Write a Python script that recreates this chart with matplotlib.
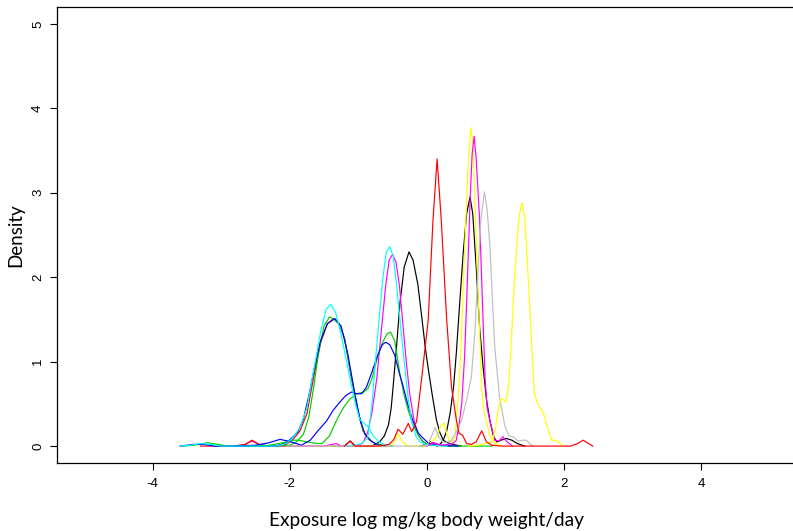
import matplotlib
matplotlib.use("Agg")
import matplotlib.pyplot as plt

# Density curves of exposure (log mg/kg body weight/day), one list pair per series
black_a_x = [-1.4, -1.2, -1.12, -1.04, -0.95, -0.8, -0.69, -0.62, -0.56, -0.52, -0.49, -0.44, -0.39,
             -0.33, -0.26, -0.2, -0.13, -0.07, -0.02, 0.02, 0.08, 0.14, 0.19, 0.24, 0.3, 0.38, 0.5]
black_a_y = [0, 0.0, 0.06, 0.0, 0.0, 0.0, 0.05, 0.12, 0.25, 0.45, 0.72, 1.2, 1.71,
             2.12, 2.30, 2.2, 1.91, 1.5, 1.15, 0.92, 0.6, 0.31, 0.16, 0.07, 0.04, 0.02, 0]

red_a_x = [-3.3, -2.8, -2.65, -2.55, -2.45, -2.3, -2.05, -1.95, -1.85, -1.75, -1.65, -1.55, -1.45,
           -1.36, -1.28, -1.2, -1.1, -1.0, -0.93, -0.85, -0.75, -0.65, -0.5]
red_a_y = [0, 0, 0.02, 0.07, 0.02, 0, 0.02, 0.08, 0.18, 0.38, 0.82, 1.22, 1.45,
           1.51, 1.45, 1.28, 0.8, 0.4, 0.18, 0.08, 0.03, 0.01, 0]

green_a_x = [-3.55, -3.4, -3.2, -3.05, -2.9, -2.2, -2.0, -1.9, -1.8, -1.72, -1.65, -1.58, -1.5,
             -1.42, -1.35, -1.27, -1.2, -1.1, -1.0, -0.93, -0.85, -0.75, -0.6]
green_a_y = [0, 0.01, 0.04, 0.02, 0, 0, 0.01, 0.05, 0.14, 0.35, 0.7, 1.1, 1.42,
             1.53, 1.5, 1.43, 1.27, 0.82, 0.4, 0.18, 0.08, 0.03, 0]

blue_a_x = [-3.6, -3.4, -3.25, -3.1, -2.2, -2.05, -1.95, -1.88, -1.8, -1.72, -1.65, -1.55, -1.45,
            -1.34, -1.25, -1.15, -1.05, -0.97, -0.9, -0.8, -0.7, -0.6]
blue_a_y = [0, 0.02, 0.02, 0, 0, 0.04, 0.11, 0.17, 0.32, 0.6, 0.88, 1.25, 1.45,
            1.51, 1.42, 1.08, 0.62, 0.3, 0.14, 0.05, 0.01, 0]

cyan_a_x = [-3.6, -3.45, -3.3, -3.15, -3.0, -2.2, -2.05, -1.95, -1.85, -1.75, -1.65, -1.55, -1.47,
            -1.40, -1.33, -1.25, -1.15, -1.05, -0.98, -0.92, -0.85, -0.78, -0.7, -0.6, -0.5]
cyan_a_y = [0, 0.01, 0.03, 0.02, 0.0, 0.0, 0.03, 0.1, 0.22, 0.45, 0.9, 1.35, 1.62,
            1.68, 1.58, 1.32, 0.92, 0.52, 0.32, 0.27, 0.22, 0.12, 0.05, 0.01, 0]

magenta_b_x = [-2.8, -2.65, -2.55, -2.45, -2.3, -1.5, -1.38, -1.32, -1.25, -1.1, -1.0, -0.93, -0.86,
               -0.8, -0.73, -0.66, -0.6, -0.55, -0.5, -0.45, -0.4, -0.35, -0.3, -0.25, -0.19,
               -0.13, -0.07, 0.0, 0.1, 0.2, 0.35]
magenta_b_y = [0, 0.02, 0.06, 0.02, 0, 0, 0.02, 0.03, 0.0, 0.0, 0.01, 0.04, 0.17,
               0.4, 0.8, 1.4, 1.9, 2.2, 2.27, 2.18, 1.9, 1.45, 1.0, 0.62, 0.32,
               0.14, 0.06, 0.02, 0.04, 0.01, 0]

yellow_a_x = [-2.8, -2.65, -2.55, -2.45, -2.3, -0.55, -0.47, -0.42, -0.36, -0.28, 0.0, 0.08, 0.15,
              0.21, 0.25, 0.29, 0.33, 0.37, 0.41, 0.44, 0.47, 0.5, 0.53, 0.57, 0.6, 0.64, 0.67,
              0.70, 0.73, 0.77, 0.80, 0.83, 0.86, 0.92, 1.0, 1.1]
yellow_a_y = [0, 0.02, 0.06, 0.02, 0, 0, 0.05, 0.15, 0.05, 0.0, 0.0, 0.06, 0.12,
              0.25, 0.27, 0.15, 0.06, 0.05, 0.11, 0.4, 0.7, 1.2, 1.89, 2.7, 3.3, 3.77, 3.6,
              2.95, 2.2, 1.34, 0.7, 0.42, 0.32, 0.12, 0.03, 0]

green_b_x = [-2.6, -2.3, -2.1, -1.95, -1.87, -1.75, -1.6, -1.53, -1.42, -1.32, -1.22, -1.12, -1.02,
             -0.92, -0.86, -0.8, -0.72, -0.65, -0.58, -0.53, -0.47, -0.39, -0.33, -0.27, -0.2,
             -0.12, -0.05, 0.05, 0.3, 0.95]
green_b_y = [0, 0.01, 0.04, 0.07, 0.07, 0.05, 0.03, 0.03, 0.12, 0.3, 0.45, 0.56, 0.62,
             0.64, 0.68, 0.8, 1.05, 1.22, 1.33, 1.35, 1.25, 0.84, 0.6, 0.42, 0.25,
             0.12, 0.05, 0.01, 0, 0]

blue_b_x = [-2.8, -2.5, -2.3, -2.14, -1.98, -1.83, -1.7, -1.6, -1.46, -1.37, -1.27, -1.18, -1.1,
            -1.02, -0.95, -0.88, -0.8, -0.72, -0.65, -0.6, -0.54, -0.47, -0.4, -0.35, -0.28,
            -0.2, -0.12, -0.05, 0.03, 0.15, 0.45]
blue_b_y = [0, 0.01, 0.04, 0.08, 0.05, 0.01, 0.07, 0.17, 0.3, 0.42, 0.52, 0.6, 0.64,
            0.62, 0.62, 0.7, 0.88, 1.07, 1.2, 1.23, 1.2, 1.08, 0.86, 0.72, 0.5,
            0.29, 0.15, 0.09, 0.03, 0.01, 0]

cyan_b_x = [-1.2, -1.05, -0.95, -0.86, -0.8, -0.74, -0.69, -0.64, -0.59, -0.54, -0.49, -0.44,
            -0.38, -0.32, -0.27, -0.22, -0.16, -0.1, -0.02, 0.1, 0.3]
cyan_b_y = [0, 0.01, 0.03, 0.1, 0.5, 1.1, 1.55, 2.0, 2.3, 2.36, 2.25, 1.9,
            1.4, 0.92, 0.55, 0.29, 0.12, 0.05, 0.02, 0.01, 0]

red_b_x = [-1.2, -1.12, -1.05, -0.7, -0.55, -0.48, -0.42, -0.35, -0.27, -0.22, -0.15, -0.08, 0.02,
           0.09, 0.15, 0.21, 0.29, 0.36, 0.43, 0.47, 0.52, 0.58, 0.65, 0.72, 0.8, 0.87, 0.95,
           1.1, 1.5, 2.1, 2.2, 2.28, 2.36, 2.42]
red_b_y = [0, 0.06, 0, 0, 0.02, 0.08, 0.2, 0.14, 0.27, 0.17, 0.29, 0.77, 1.49,
           2.68, 3.40, 2.68, 1.49, 0.70, 0.31, 0.15, 0.13, 0.03, 0.02, 0.05, 0.18, 0.05, 0.01,
           0, 0, 0, 0.03, 0.07, 0.03, 0]

black_b_x = [-0.1, 0.0, 0.05, 0.1, 0.15, 0.2, 0.24, 0.29, 0.34, 0.39, 0.43, 0.48, 0.53, 0.58,
             0.63, 0.67, 0.72, 0.77, 0.82, 0.87, 0.92, 0.97, 1.02, 1.08, 1.16, 1.24, 1.32, 1.43]
black_b_y = [0, 0.02, 0.05, 0.03, 0.0, 0.03, 0.07, 0.18, 0.39, 0.7, 1.10, 1.7, 2.28, 2.75,
             2.95, 2.75, 2.12, 1.4, 0.94, 0.55, 0.3, 0.12, 0.05, 0.07, 0.09, 0.07, 0.03, 0]

magenta_c_x = [0.0, 0.1, 0.2, 0.3, 0.38, 0.43, 0.47, 0.51, 0.55, 0.58, 0.63, 0.66, 0.69, 0.72,
               0.77, 0.82, 0.85, 0.88, 0.92, 0.99, 1.05, 1.11, 1.17, 1.25]
magenta_c_y = [0, 0.04, 0.01, 0.02, 0.03, 0.07, 0.25, 0.51, 1.05, 1.69, 2.88, 3.45, 3.67, 3.4,
               2.68, 1.49, 0.8, 0.45, 0.3, 0.07, 0.06, 0.11, 0.05, 0]

gray_x = [-2.05, 0.0, 0.06, 0.12, 0.18, 0.25, 0.35, 0.45, 0.51, 0.58, 0.65, 0.70, 0.75, 0.79,
          0.84, 0.88, 0.92, 0.99, 1.06, 1.14, 1.2, 1.26, 1.33, 1.4, 1.45, 1.5, 1.55]
gray_y = [0, 0.0, 0.1, 0.22, 0.1, 0.04, 0.06, 0.2, 0.31, 0.55, 0.82, 1.34, 2.12, 2.7,
          3.01, 2.8, 2.36, 1.18, 0.58, 0.23, 0.12, 0.11, 0.06, 0.07, 0.07, 0.03, 0]

yellow_b_x = [0.6, 0.75, 0.85, 0.95, 1.0, 1.04, 1.08, 1.11, 1.15, 1.19, 1.23, 1.27, 1.31, 1.35,
              1.39, 1.43, 1.48, 1.53, 1.57, 1.62, 1.70, 1.76, 1.82, 1.87, 1.92, 1.99]
yellow_b_y = [0, 0.01, 0.03, 0.05, 0.2, 0.43, 0.55, 0.56, 0.52, 0.7, 1.2, 1.85, 2.36, 2.75,
              2.88, 2.7, 1.97, 1.18, 0.62, 0.5, 0.39, 0.22, 0.07, 0.07, 0.05, 0]

x_ticks = [-4, -2, 0, 2, 4]
y_ticks = [0, 1, 2, 3, 4, 5]

series = [
    (black_a_x, black_a_y, "black"),
    (black_b_x, black_b_y, "black"),
    (yellow_a_x, yellow_a_y, "#FFFF00"),
    (magenta_b_x, magenta_b_y, "#FF00FF"),
    (red_a_x, red_a_y, "#FF0000"),
    (green_a_x, green_a_y, "#00CD00"),
    (blue_a_x, blue_a_y, "#0000FF"),
    (green_b_x, green_b_y, "#00CD00"),
    (blue_b_x, blue_b_y, "#0000FF"),
    (cyan_b_x, cyan_b_y, "#00FFFF"),
    (cyan_a_x, cyan_a_y, "#00FFFF"),
    (magenta_c_x, magenta_c_y, "#FF00FF"),
    (gray_x, gray_y, "#BEBEBE"),
    (yellow_b_x, yellow_b_y, "#FFFF00"),
    (red_b_x, red_b_y, "#FF0000"),
]

tick_font = ["Liberation Sans Narrow", "Liberation Sans", "DejaVu Sans"]
label_font = ["Lato", "DejaVu Sans"]

fig = plt.figure(figsize=(7.93, 5.31), dpi=100)
ax = fig.add_axes([0.0714, 0.1281, 0.9337, 0.8588])

for xs, ys, col in series:
    ax.plot(xs, ys, color=col, lw=0.85, solid_joinstyle="round")

ax.set_xlim(-5.4, 5.4)
ax.set_ylim(-0.2, 5.2)
ax.set_xticks(x_ticks)
ax.set_yticks(y_ticks)
ax.set_xticklabels([str(t) for t in x_ticks], family=tick_font, fontsize=9.5)
ax.set_yticklabels([str(t) for t in y_ticks], family=tick_font, fontsize=9.5,
                   rotation=90, va="center")
ax.tick_params(direction="out", length=5, width=0.8, pad=6, colors="black")
ax.tick_params(axis="y", pad=4)
for s in ax.spines.values():
    s.set_linewidth(0.9)

ax.set_xlabel("Exposure log mg/kg body weight/day", family=label_font, fontsize=13.8, labelpad=16)
ax.set_ylabel("Density", family=label_font, fontsize=13.5, labelpad=6)

fig.savefig("out.png", dpi=100)
